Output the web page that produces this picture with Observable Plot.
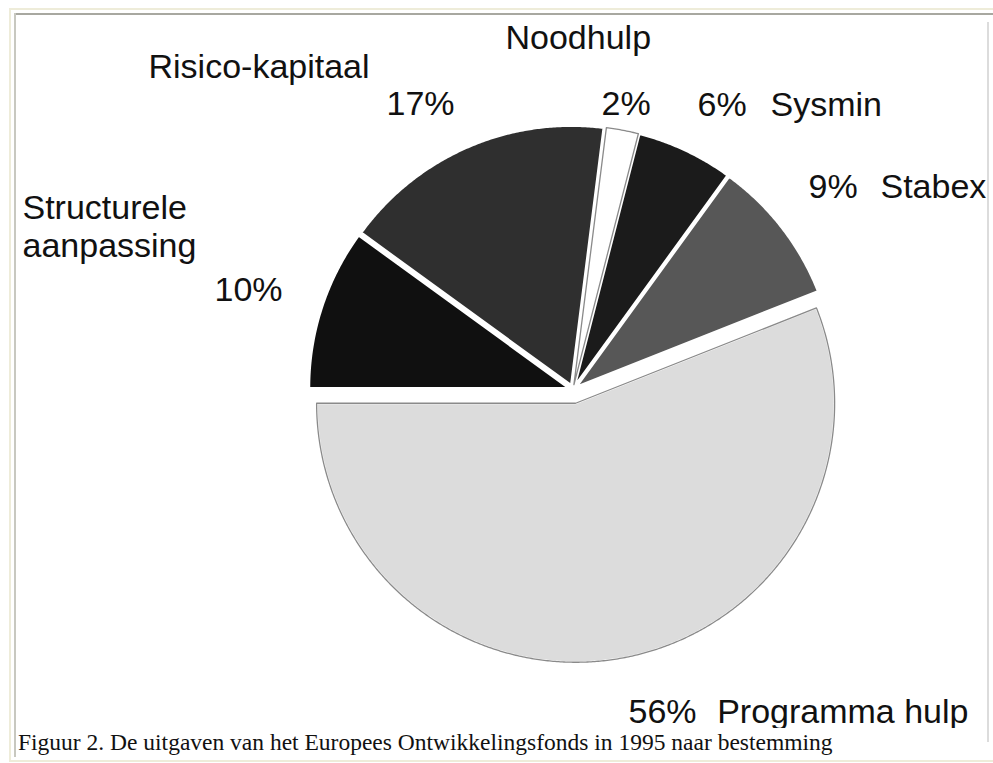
<!DOCTYPE html>
<html>
<head>
<meta charset="utf-8">
<script src="https://cdn.jsdelivr.net/npm/d3@7"></script>
<script src="https://cdn.jsdelivr.net/npm/@observablehq/plot@0.6"></script>
<style>
  html, body { margin: 0; padding: 0; background: #fff; width: 993px; height: 763px; overflow: hidden; }
  #chart { position: absolute; left: 0; top: 0; }
  .ln { position: absolute; }
  #caption { position: absolute; left: 18px; top: 729px; font-family: "Liberation Serif", "Times New Roman", serif; font-size: 23.5px; color: #111; white-space: nowrap; }
</style>
</head>
<body>
<div class="ln" style="left:9px;top:8px;width:984px;height:2px;background:#eeecd9"></div>
<div class="ln" style="left:9px;top:8px;width:2px;height:754px;background:#eeecd9"></div>
<div class="ln" style="left:9px;top:760px;width:984px;height:2px;background:#eeecd9"></div>
<div class="ln" style="left:14px;top:13px;width:979px;height:2px;background:#a8a8a0"></div>
<div class="ln" style="left:14px;top:13px;width:2px;height:744px;background:#c8c8c0"></div>
<div class="ln" style="left:987px;top:22px;width:2px;height:720px;background:#dcdcdc"></div>
<div id="chart"></div>
<div id="caption"></div>
<script>
// ---- data ----
const categories = ["Programma hulp", "Structurele aanpassing", "Risico-kapitaal", "Noodhulp", "Sysmin", "Stabex"];
const shares = [56, 10, 17, 2, 6, 9];
const fills = ["#dcdcdc", "#101010", "#2f2f2f", "#ffffff", "#1b1b1b", "#575757"];
const captionText = "Figuur 2. De uitgaven van het Europees Ontwikkelingsfonds in 1995 naar bestemming";

// label texts and layout (annotation placement)
const labels = [
  {text: "Risico-kapitaal", x: 148, y: 77, anchor: "start"},
  {text: "17%", x: 386, y: 114, anchor: "start"},
  {text: "Noodhulp", x: 505, y: 48, anchor: "start"},
  {text: "2%", x: 601, y: 114, anchor: "start"},
  {text: "6%", x: 697, y: 115, anchor: "start"},
  {text: "Sysmin", x: 770, y: 115, anchor: "start"},
  {text: "9%", x: 808, y: 197, anchor: "start"},
  {text: "Stabex", x: 880, y: 197, anchor: "start"},
  {text: "Structurele", x: 22, y: 218, anchor: "start"},
  {text: "aanpassing", x: 22, y: 256, anchor: "start"},
  {text: "10%", x: 214, y: 300, anchor: "start"},
  {text: "56%", x: 628, y: 722, anchor: "start"},
  {text: "Programma hulp", x: 968, y: 722, anchor: "end"}
];

// ---- geometry ----
const W = 993, H = 728;
const cx = 572.5, cy = 389, R = 259;
const explode = [14, 5, 5, 5, 5, 5];
const deg = Math.PI / 180;
const start = (270 - 3.6 * shares[0]) * deg;

const table = categories.map((name, i) => ({name, share: shares[i], i}));
const arcs = d3.pie().sort(null).value(d => d.share).startAngle(start).endAngle(start + 2 * Math.PI)(table);

const pts = [];
for (const a of arcs) {
  const mid = (a.startAngle + a.endAngle) / 2;
  const d = explode[a.data.i];
  const ox = cx + d * Math.sin(mid), oy = cy - d * Math.cos(mid);
  const name = a.data.name;
  pts.push({name, x: ox, y: oy});
  const n = Math.max(4, Math.ceil((a.endAngle - a.startAngle) / (0.4 * deg)));
  for (let k = 0; k <= n; k++) {
    const t = a.startAngle + (a.endAngle - a.startAngle) * k / n;
    pts.push({name, x: ox + R * Math.sin(t), y: oy - R * Math.cos(t)});
  }
}
const lightNames = ["Programma hulp", "Noodhulp"];
const textOpts = {x: "x", y: "y", text: "text", lineAnchor: "bottom",
  fontFamily: "Liberation Sans, Arial, Helvetica, sans-serif", fontSize: 34, fill: "#111"};

const chart = Plot.plot({
  width: W, height: H,
  margin: 0,
  x: {domain: [0, W], range: [0, W], axis: null},
  y: {domain: [0, H], range: [0, H], axis: null},
  color: {domain: categories, range: fills},
  marks: [
    Plot.line(pts, {x: "x", y: "y", z: "name", fill: "name", stroke: "white", strokeWidth: 2, curve: "linear-closed"}),
    Plot.line(pts.filter(p => lightNames.includes(p.name)), {x: "x", y: "y", z: "name", stroke: "#8a8a8a", strokeWidth: 1.3, curve: "linear-closed"}),
    Plot.text(labels.filter(l => l.anchor === "start"), {...textOpts, textAnchor: "start"}),
    Plot.text(labels.filter(l => l.anchor === "end"), {...textOpts, textAnchor: "end"})
  ]
});
document.getElementById("chart").appendChild(chart);
document.getElementById("caption").textContent = captionText;
</script>
</body>
</html>
